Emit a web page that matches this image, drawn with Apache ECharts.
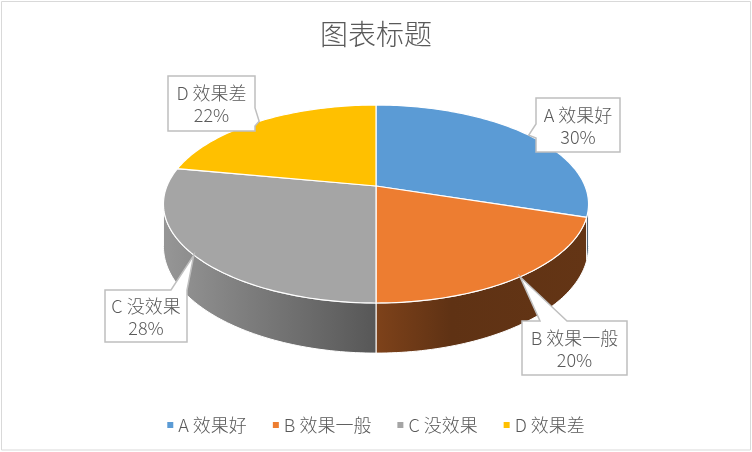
<!DOCTYPE html>
<html>
<head>
<meta charset="utf-8">
<script src="https://cdn.jsdelivr.net/npm/echarts@6/dist/echarts.min.js"></script>
<style>
  html, body { margin: 0; padding: 0; background: #fff; }
  #main { width: 752px; height: 452px; }
</style>
</head>
<body>
<div id="main"></div>
<script>
// 类别和数值
const categories = ['A 效果好', 'B 效果一般', 'C 没效果', 'D 效果差'];
const values = [30, 20, 28, 22];
const colors = ['#5B9BD5', '#ED7D31', '#A5A5A5', '#FFC000'];

// 3D饼图的投影参数（带一点透视）
const cx = 376, cy = 186;   // 饼心
const rx = 209, ry = 95.7;  // 水平 / 垂直半径
const persp = 0.182;        // 透视系数
const depth = 41;           // 厚度

// 标签框 [x, y, w, h]，引线底边在哪条边以及范围
const labelBoxes = [
  { box: [536, 98, 84, 54], side: 'left', from: 124, to: 138 },
  { box: [522, 321, 105, 54], side: 'top', from: 540, to: 567 },
  { box: [105, 290, 82, 52], side: 'top', from: 171, to: 187 },
  { box: [168, 76, 87, 55], side: 'right', from: 108, to: 126 }
];

const total = values.reduce((s, v) => s + v, 0);
const starts = [];
let acc = 0;
values.forEach(v => { starts.push(acc / total * Math.PI * 2); acc += v; });

// 侧面可见的角度范围
const tR = Math.acos(-persp);
const tL = Math.PI * 2 - tR;

function proj(theta, h) {
  const den = 1 + persp * Math.cos(theta);
  return [cx + rx * Math.sin(theta) / den, cy + (-ry * Math.cos(theta) + h) / den];
}

function arc(t1, t2, h) {
  const n = Math.max(2, Math.ceil((t2 - t1) / 0.02));
  const pts = [];
  for (let k = 0; k <= n; k++) {
    pts.push(proj(t1 + (t2 - t1) * k / n, h));
  }
  return pts;
}

function shade(hex, k) {
  const n = parseInt(hex.slice(1), 16);
  const r = Math.round(((n >> 16) & 255) * k);
  const g = Math.round(((n >> 8) & 255) * k);
  const b = Math.round((n & 255) * k);
  return 'rgb(' + r + ',' + g + ',' + b + ')';
}

// 侧面渐变（左亮右暗）
function wallFill(hex) {
  return {
    type: 'linear',
    x: cx - rx, y: 0, x2: cx + rx, y2: 0,
    global: true,
    colorStops: [
      { offset: 0, color: shade(hex, 0.9) },
      { offset: 0.5, color: shade(hex, 0.53) },
      { offset: 0.68, color: shade(hex, 0.4) },
      { offset: 1, color: shade(hex, 0.42) }
    ]
  };
}

// 标注框 + 尖角
function calloutPoints(lb, tip) {
  const [x, y, w, h] = lb.box;
  const pts = [[x, y]];
  if (lb.side === 'top') pts.push([lb.from, y], tip, [lb.to, y]);
  pts.push([x + w, y]);
  if (lb.side === 'right') pts.push([x + w, lb.from], tip, [x + w, lb.to]);
  pts.push([x + w, y + h]);
  if (lb.side === 'bottom') pts.push([lb.to, y + h], tip, [lb.from, y + h]);
  pts.push([x, y + h]);
  if (lb.side === 'left') pts.push([x, lb.to], tip, [x, lb.from]);
  return pts;
}

function makeRender(i) {
  return function (params, api) {
    const t1 = starts[i];
    const t2 = t1 + api.value(0) / total * Math.PI * 2;
    const children = [];
    // 侧面
    const s = Math.max(t1, tR), e = Math.min(t2, tL);
    if (e > s) {
      const top = arc(s, e, 0);
      const bottom = arc(s, e, depth).reverse();
      children.push({
        type: 'polygon',
        z2: 1,
        shape: { points: top.concat(bottom) },
        style: { fill: wallFill(colors[i]), stroke: '#fff', lineWidth: 1 }
      });
    }
    // 顶面
    children.push({
      type: 'polygon',
      z2: 10,
      shape: { points: [[cx, cy]].concat(arc(t1, t2, 0)) },
      style: { fill: colors[i], stroke: '#fff', lineWidth: 1.2 }
    });
    // 数据标签
    const tip = proj((t1 + t2) / 2, 0);
    const lb = labelBoxes[i];
    const pct = Math.round(api.value(0) / total * 100);
    children.push({
      type: 'polygon',
      z2: 100,
      shape: { points: calloutPoints(lb, tip) },
      style: { fill: '#fff', stroke: '#BFBFBF', lineWidth: 1.5 }
    });
    children.push({
      type: 'text',
      z2: 101,
      x: lb.box[0] + lb.box[2] / 2,
      y: lb.box[1] + lb.box[3] / 2 + 1,
      style: {
        text: categories[i] + '\n' + pct + '%',
        fill: '#595959',
        font: '300 18px "Noto Sans CJK SC"',
        align: 'center',
        verticalAlign: 'middle',
        lineHeight: 22
      }
    });
    return { type: 'group', children: children };
  };
}

const myChart = echarts.init(document.querySelector('#main'));
const option = {
  animation: false,
  color: colors,
  title: {
    text: '图表标题',
    left: 'center',
    top: 20,
    padding: 0,
    textStyle: {
      fontFamily: 'Noto Sans CJK SC',
      fontSize: 28,
      fontWeight: 300,
      color: '#595959'
    }
  },
  legend: {
    data: categories,
    left: 'center',
    top: 411,
    icon: 'rect',
    itemWidth: 6,
    itemHeight: 6,
    itemGap: 26,
    textStyle: {
      fontFamily: 'Noto Sans CJK SC',
      fontSize: 18,
      fontWeight: 300,
      color: '#595959'
    }
  },
  graphic: [{
    type: 'rect',
    shape: { x: 1.5, y: 1.5, width: 749, height: 448.5 },
    style: { fill: 'none', stroke: '#D9D9D9', lineWidth: 1 },
    silent: true
  }],
  series: categories.map((name, i) => ({
    type: 'custom',
    name: name,
    coordinateSystem: 'none',
    itemStyle: { color: colors[i] },
    renderItem: makeRender(i),
    data: [values[i]]
  }))
};
myChart.setOption(option);
</script>
</body>
</html>
